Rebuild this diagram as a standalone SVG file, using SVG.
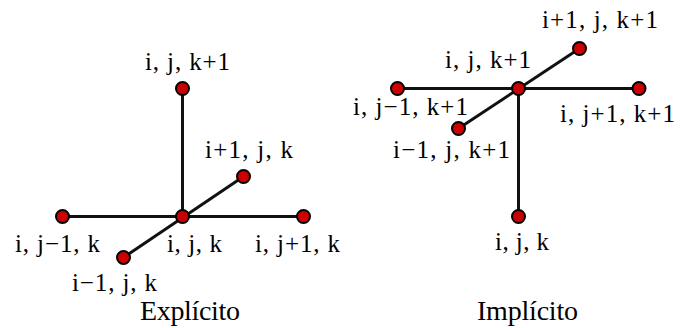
<svg xmlns="http://www.w3.org/2000/svg" width="680" height="328" viewBox="0 0 680 328">
  <style>
    .edge { stroke: #111; stroke-width: 3; fill: none; }
    .node { fill: #cc0000; stroke: #000; stroke-width: 2; }
  </style>
  <rect width="680" height="328" fill="#fff"/>

  <!-- explicit stencil -->
  <g id="connectors-explicit">
    <line class="edge" x1="182.5" y1="88.5" x2="182.5" y2="216.5"/>
    <line class="edge" x1="62.5" y1="216.5" x2="303.5" y2="216.5"/>
    <line class="edge" x1="123.5" y1="257.5" x2="243.5" y2="176.5"/>
  </g>
  <g font-family="Liberation Serif, DejaVu Serif, serif" font-size="25" fill="#000">
    <g id="e-ijk1"><circle class="node" cx="182.5" cy="88.5" r="6.5"/><text x="145" y="70" textLength="85" lengthAdjust="spacing">i, j, k+1</text></g>
    <g id="e-i1jk"><circle class="node" cx="243.5" cy="176.5" r="6.5"/><text x="205" y="158" textLength="88" lengthAdjust="spacing">i+1, j, k</text></g>
    <g id="e-ij-1k"><circle class="node" cx="62.5" cy="216.5" r="6.5"/><text x="15" y="252" textLength="85" lengthAdjust="spacing">i, j−1, k</text></g>
    <g id="e-ijk"><circle class="node" cx="182.5" cy="216.5" r="6.5"/><text x="167" y="252" textLength="55" lengthAdjust="spacing">i, j, k</text></g>
    <g id="e-ij1k"><circle class="node" cx="303.5" cy="216.5" r="6.5"/><text x="255" y="252" textLength="85" lengthAdjust="spacing">i, j+1, k</text></g>
    <g id="e-i-1jk"><circle class="node" cx="123.5" cy="257.5" r="6.5"/><text x="72" y="291" textLength="85" lengthAdjust="spacing">i−1, j, k</text></g>
    <text x="140" y="320" font-size="28" textLength="100" lengthAdjust="spacing">Explícito</text>
  </g>

  <!-- implicit stencil -->
  <g id="connectors-implicit">
    <line class="edge" x1="397.5" y1="88.5" x2="639" y2="88.5"/>
    <line class="edge" x1="518.5" y1="88.5" x2="518.5" y2="216.5"/>
    <line class="edge" x1="458.5" y1="128.5" x2="579.5" y2="48.5"/>
  </g>
  <g font-family="Liberation Serif, DejaVu Serif, serif" font-size="25" fill="#000">
    <g id="i-i1jk1"><circle class="node" cx="579.5" cy="48.5" r="6.5"/><text x="542" y="28" textLength="116" lengthAdjust="spacing">i+1, j, k+1</text></g>
    <g id="i-ijk1"><circle class="node" cx="518.5" cy="88.5" r="6.5"/><text x="445" y="68" textLength="86" lengthAdjust="spacing">i, j, k+1</text></g>
    <g id="i-ij-1k1"><circle class="node" cx="397.5" cy="88.5" r="6.5"/><text x="353" y="115" textLength="115" lengthAdjust="spacing">i, j−1, k+1</text></g>
    <g id="i-ij1k1"><circle class="node" cx="639" cy="88.5" r="6.5"/><text x="560" y="121.5" textLength="115" lengthAdjust="spacing">i, j+1, k+1</text></g>
    <g id="i-i-1jk1"><circle class="node" cx="458.5" cy="128.5" r="6.5"/><text x="393" y="158" textLength="117" lengthAdjust="spacing">i−1, j, k+1</text></g>
    <g id="i-ijk"><circle class="node" cx="518.5" cy="216.5" r="6.5"/><text x="495" y="250" textLength="54" lengthAdjust="spacing">i, j, k</text></g>
    <text x="477" y="320" font-size="28" textLength="101" lengthAdjust="spacing">Implícito</text>
  </g>
</svg>
